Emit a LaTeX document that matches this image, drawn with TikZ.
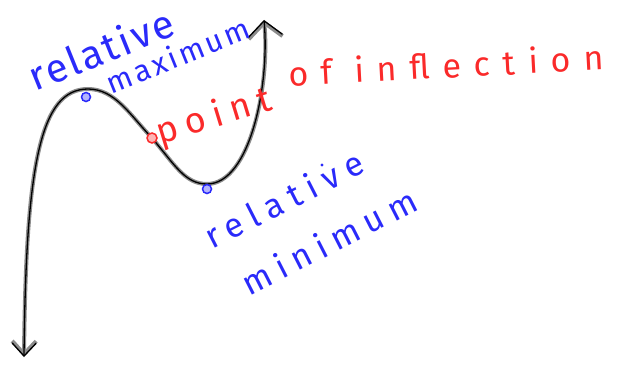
\documentclass[tikz,border=0pt]{standalone}
\usepackage{fontspec}
\newfontfamily\hand{Fira Sans}
\newcommand\handsize[2]{\fontsize{#1}{#1}\selectfont\addfontfeature{LetterSpace=#2}}
\usetikzlibrary{arrows.meta}

\definecolor{penblue}{HTML}{2A2AFA}
\definecolor{penred}{HTML}{FA2A2A}

\begin{document}
\begin{tikzpicture}[x=1pt,y=1pt,
 curve/.style={line width=1.3pt,black,line cap=round,
   preaction={draw=black!45,line width=4pt,line cap=round}},
 bluetxt/.style={text=penblue,inner sep=0pt},
 redtxt/.style={text=penred,inner sep=0pt},
 bluedot/.style={circle,draw=penblue,fill=penblue!35,line width=1.5pt,minimum size=9pt,inner sep=0pt},
 reddot/.style={circle,draw=penred,fill=penred!35,line width=1.5pt,minimum size=10pt,inner sep=0pt}]
\useasboundingbox (0,0) rectangle (617,365);
% points of the curve
\coordinate (bot) at (24,8);
\coordinate (max) at (88,276);
\coordinate (infl) at (152,227);
\coordinate (min) at (207,181);
\coordinate (top) at (264,345);
\draw[curve,{Straight Barb[length=13pt,width=24pt]}-{Straight Barb[length=15pt,width=34pt]}]
 (bot) .. controls (26,200) and (40,276) .. (max)
 .. controls (115,276) and (130,250) .. (infl)
 .. controls (175,200) and (185,181) .. (min)
 .. controls (250,181) and (270,280) .. (top);
% marked points
\node[bluedot] (maxdot) at (86,268) {};
\node[reddot] (infldot) at (152,227) {};
\node[bluedot] (mindot) at (207,176) {};
\fill[penblue] (322,200) circle (1.6pt);
% labels
\node[bluetxt,rotate=22,font=\hand\handsize{40}{6}] (relmax) at (101,316) {relative};
\node[bluetxt,rotate=22,font=\hand\handsize{30}{10}] (maxlbl) at (178,310) {maximum};
\node[redtxt,rotate=17,font=\hand\handsize{36}{22}] (pointlbl) at (214,248) {point};
\node[redtxt,rotate=3,font=\hand\handsize{34}{38}] (infllbl) at (446,300) {of inflection};
\node[bluetxt,rotate=27,font=\hand\handsize{34}{24}] (relmin) at (284,166) {relative};
\node[bluetxt,rotate=27,font=\hand\handsize{34}{22}] (minlbl) at (329,124) {minimum};
\end{tikzpicture}
\end{document}
